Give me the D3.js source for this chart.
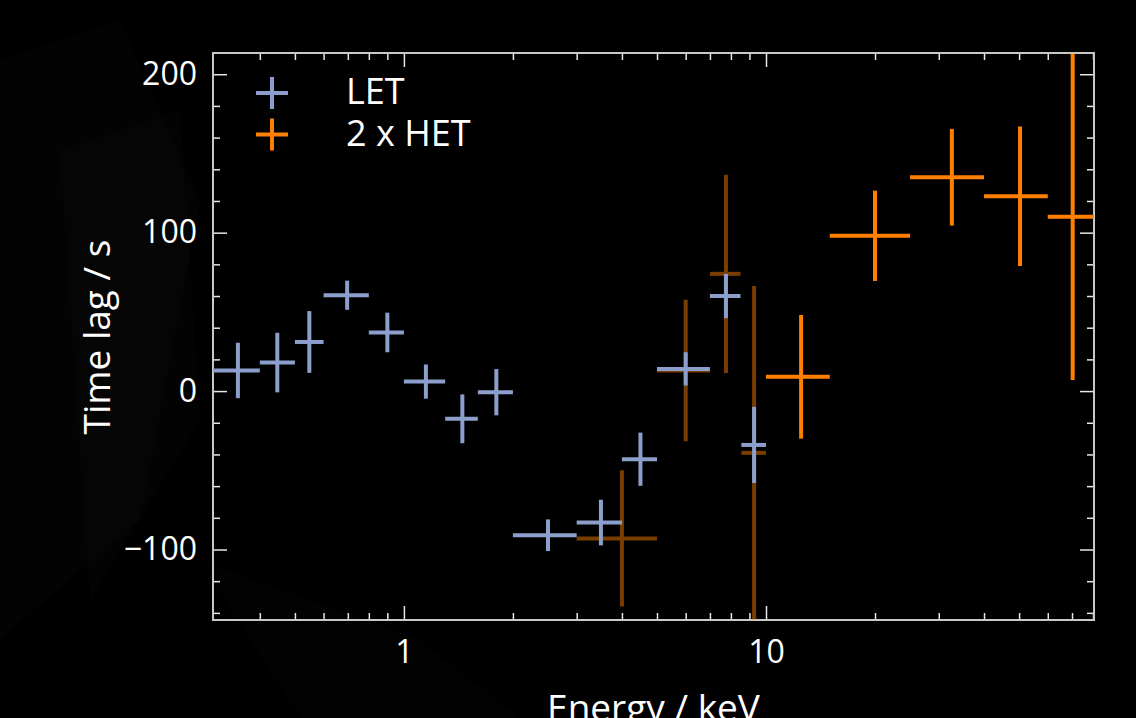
<!DOCTYPE html>
<html>
<head>
<meta charset="utf-8">
<script src="https://cdn.jsdelivr.net/npm/d3@7"></script>
<style>
  html, body { margin: 0; padding: 0; background: #000000; overflow: hidden; }
  text { font-family: "Open Sans", "Noto Sans", sans-serif; }
</style>
</head>
<body>
<script>
// LET points: centre energy, bin edges (keV), lag and error (s)
const letE   = [0.348, 0.447, 0.548, 0.697, 0.90, 1.15, 1.45, 1.80, 2.50, 3.50, 4.50, 6.00, 7.75, 9.27];
const letLo  = [0.29, 0.40, 0.50, 0.60, 0.80, 1.00, 1.30, 1.60, 2.00, 3.00, 4.00, 5.00, 7.00, 8.55];
const letHi  = [0.40, 0.50, 0.60, 0.80, 1.00, 1.30, 1.60, 2.00, 3.00, 4.00, 5.00, 7.00, 8.50, 10.0];
const letLag = [13, 18, 31, 60.5, 37, 6, -17.5, -0.7, -91, -83, -43, 14, 60, -34];
const letErr = [17.5, 18.8, 19.5, 9.2, 12.5, 10.8, 15.4, 14.6, 10, 14.4, 16.8, 10.5, 14, 24];

// HET points (already multiplied by 2)
const hetE   = [4.0, 6.0, 7.75, 9.27, 12.5, 20.0, 32.6, 50.3, 70.3];
const hetLo  = [3.0, 5.0, 7.0, 8.55, 10.0, 15.0, 25.0, 40.0, 60.0];
const hetHi  = [5.0, 7.0, 8.5, 10.0, 15.0, 25.0, 40.0, 60.0, 90.0];
const hetLag = [-93, 13, 74, -39, 9, 98, 135, 123, 110];
const hetErr = [43, 44.6, 62.6, 105.4, 39, 28.5, 30.5, 44, 103];

// axis ticks
const xMajor = [1, 10];
const xMinor = [0.4, 0.5, 0.6, 0.7, 0.8, 0.9, 2, 3, 4, 5, 6, 7, 8, 9, 20, 30, 40, 50, 60, 70, 80];
const yMajor = [-100, 0, 100, 200];
const yMinor = [-140, -120, -80, -60, -40, -20, 20, 40, 60, 80, 120, 140, 160, 180];

const legendLabels = ["LET", "2 x HET"];

function init() {
  const W = 1136, H = 718;
  const pl = 213, pr = 1094, pt = 53, pb = 620; // plot frame

  const svg = d3.select("body").append("svg")
    .attr("width", W)
    .attr("height", H)
    .style("background-color", "#000000");

  // faint streaks of the background picture
  const bgg = svg.append("g").attr("fill", "#ffffff");
  bgg.append("path").attr("d", "M0,60 L120,20 L200,200 L140,520 L0,640 Z").attr("opacity", 0.012);
  bgg.append("path").attr("d", "M60,150 L180,110 L200,420 L90,600 Z").attr("opacity", 0.01);
  bgg.append("path").attr("d", "M200,560 L420,640 L520,718 L300,718 Z").attr("opacity", 0.008);

  const x = d3.scaleLog().domain([0.297, 80.5]).range([pl, pr]);
  const y = d3.scaleLinear().domain([-144.5, 213.4]).range([pb, pt]);

  svg.append("clipPath").attr("id", "clip")
    .append("rect")
    .attr("x", pl).attr("y", pt)
    .attr("width", pr - pl).attr("height", pb - pt);

  // axes, ticks pointing inward on all four sides
  const tickStyle = g => {
    g.select(".domain").remove();
    g.selectAll("line").attr("stroke", "#e6e6e6").attr("stroke-width", 1.5);
    g.selectAll("text").attr("fill", "#ffffff").style("font-size", "32px")
      .style("font-family", '"Open Sans", "Noto Sans", sans-serif');
  };

  svg.append("g").attr("transform", `translate(0,${pb})`)
    .call(d3.axisBottom(x).tickValues(xMajor).tickFormat(d3.format("d"))
      .tickSizeInner(-14).tickSizeOuter(0).tickPadding(20))
    .call(tickStyle);
  svg.append("g").attr("transform", `translate(0,${pb})`)
    .call(d3.axisBottom(x).tickValues(xMinor).tickFormat("").tickSizeInner(-7).tickSizeOuter(0))
    .call(tickStyle);
  svg.append("g").attr("transform", `translate(0,${pt})`)
    .call(d3.axisTop(x).tickValues(xMajor).tickFormat("").tickSizeInner(-14).tickSizeOuter(0))
    .call(tickStyle);
  svg.append("g").attr("transform", `translate(0,${pt})`)
    .call(d3.axisTop(x).tickValues(xMinor).tickFormat("").tickSizeInner(-7).tickSizeOuter(0))
    .call(tickStyle);

  svg.append("g").attr("transform", `translate(${pl},0)`)
    .call(d3.axisLeft(y).tickValues(yMajor).tickFormat(d => d < 0 ? "\u2212" + Math.abs(d) : d)
      .tickSizeInner(-14).tickSizeOuter(0).tickPadding(16))
    .call(tickStyle);
  svg.append("g").attr("transform", `translate(${pl},0)`)
    .call(d3.axisLeft(y).tickValues(yMinor).tickFormat("").tickSizeInner(-7).tickSizeOuter(0))
    .call(tickStyle);
  svg.append("g").attr("transform", `translate(${pr},0)`)
    .call(d3.axisRight(y).tickValues(yMajor).tickFormat("").tickSizeInner(-14).tickSizeOuter(0))
    .call(tickStyle);
  svg.append("g").attr("transform", `translate(${pr},0)`)
    .call(d3.axisRight(y).tickValues(yMinor).tickFormat("").tickSizeInner(-7).tickSizeOuter(0))
    .call(tickStyle);

  // frame
  svg.append("rect")
    .attr("x", pl).attr("y", pt)
    .attr("width", pr - pl).attr("height", pb - pt)
    .attr("fill", "none")
    .attr("stroke", "#c8c8c8")
    .attr("stroke-width", 2);

  // build point lists
  const letData = letE.map((e, i) => ({ e, lo: letLo[i], hi: letHi[i], v: letLag[i], err: letErr[i] }));
  const hetData = hetE.map((e, i) => ({ e, lo: hetLo[i], hi: hetHi[i], v: hetLag[i], err: hetErr[i] }));

  const plot = svg.append("g").attr("clip-path", "url(#clip)");

  function crosses(data, colour, opacity) {
    const g = plot.append("g")
      .attr("stroke", colour)
      .attr("stroke-width", 4)
      .attr("stroke-linecap", "butt");
    const c = g.selectAll("g").data(data).join("g")
      .attr("opacity", opacity);
    c.append("line")
      .attr("x1", d => x(d.lo)).attr("x2", d => x(d.hi))
      .attr("y1", d => y(d.v)).attr("y2", d => y(d.v));
    c.append("line")
      .attr("x1", d => x(d.e)).attr("x2", d => x(d.e))
      .attr("y1", d => y(d.v - d.err)).attr("y2", d => y(d.v + d.err));
  }

  // faded HET below 10 keV sits underneath the LET points
  crosses(hetData.filter(d => d.e < 10), "#ff8000", 0.48);
  crosses(letData, "#8c9fcc", 1);
  crosses(hetData.filter(d => d.e >= 10), "#ff8000", 1);

  // legend
  const legColours = ["#8c9fcc", "#ff8000"];
  const leg = svg.append("g");
  legendLabels.forEach((lab, i) => {
    const cy = 93 + i * 41.5;
    leg.append("line").attr("x1", 256).attr("x2", 288).attr("y1", cy).attr("y2", cy)
      .attr("stroke", legColours[i]).attr("stroke-width", 4);
    leg.append("line").attr("x1", 272).attr("x2", 272).attr("y1", cy - 16).attr("y2", cy + 16)
      .attr("stroke", legColours[i]).attr("stroke-width", 4);
    leg.append("text").attr("x", 346).attr("y", cy + 11)
      .attr("fill", "#ffffff").style("font-size", "36px")
      .text(lab);
  });

  // axis titles
  svg.append("text")
    .attr("transform", "translate(110,337) rotate(-90)")
    .attr("text-anchor", "middle")
    .attr("fill", "#ffffff")
    .style("font-size", "37px")
    .text("Time lag / s");

  svg.append("text")
    .attr("x", (pl + pr) / 2)
    .attr("y", 721)
    .attr("text-anchor", "middle")
    .attr("fill", "#ffffff")
    .style("font-size", "37px")
    .text("Energy / keV");
}

init();
</script>
</body>
</html>
